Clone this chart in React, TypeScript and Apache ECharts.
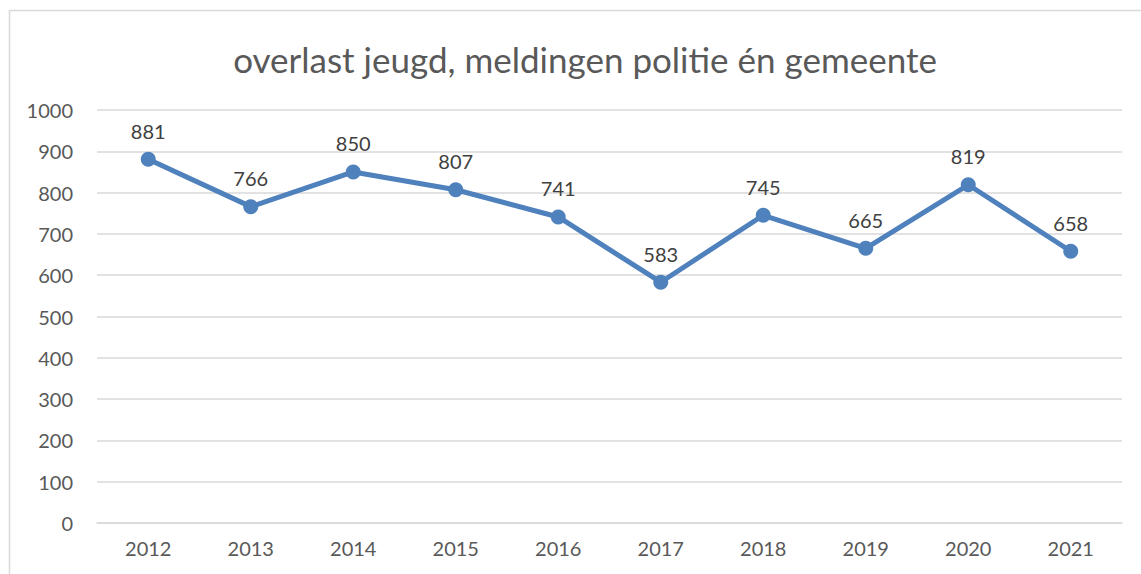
import React, { useEffect, useRef } from "react";
import * as echarts from "echarts";

const years = ["2012", "2013", "2014", "2015", "2016", "2017", "2018", "2019", "2020", "2021"];
const meldingen = [881, 766, 850, 807, 741, 583, 745, 665, 819, 658];
const titleText = "overlast jeugd, meldingen politie én gemeente";

export default function App() {
  const ref = useRef<HTMLDivElement>(null);
  useEffect(() => {
    const chart = echarts.init(ref.current!, null, { renderer: "svg" });
    const font = "Lato, 'Open Sans', sans-serif";
    chart.setOption({
      animation: false,
      backgroundColor: "#ffffff",
      title: {
        text: titleText,
        left: 580,
        textAlign: "center",
        top: 36,
        textStyle: { fontFamily: font, fontSize: 35, fontWeight: "normal", color: "#595959" },
      },
      graphic: [
        {
          type: "rect",
          shape: { x: 9.5, y: 10.5, width: 1140, height: 600 },
          style: { fill: "none", stroke: "#d9d9d9", lineWidth: 1.5 },
          silent: true,
        },
      ],
      grid: { left: 97, right: 19, top: 110, bottom: 51, containLabel: false },
      xAxis: {
        type: "category",
        data: years,
        boundaryGap: true,
        axisLine: { show: true, lineStyle: { color: "#d9d9d9", width: 1.5 } },
        axisTick: { show: false },
        axisLabel: { fontFamily: font, fontSize: 20, color: "#595959", margin: 15 },
      },
      yAxis: {
        type: "value",
        min: 0,
        max: 1000,
        interval: 100,
        axisLine: { show: false },
        axisTick: { show: false },
        splitLine: { lineStyle: { color: "#d9d9d9", width: 1.5 } },
        axisLabel: {
          fontFamily: font,
          fontSize: 20,
          color: "#595959",
          margin: 24,
          formatter: (v: number) => String(v),
        },
      },
      series: [
        {
          type: "line",
          data: meldingen,
          lineStyle: { color: "#4f81bd", width: 5 },
          itemStyle: { color: "#4f81bd" },
          symbol: "circle",
          symbolSize: 15,
          label: {
            show: true,
            position: "top",
            distance: 11,
            fontFamily: font,
            fontSize: 20,
            color: "#404040",
          },
        },
      ],
    });
    return () => chart.dispose();
  }, []);
  return (
    <div
      ref={ref}
      style={{ position: "absolute", left: 0, top: 0, width: 1141, height: 574 }}
    />
  );
}
